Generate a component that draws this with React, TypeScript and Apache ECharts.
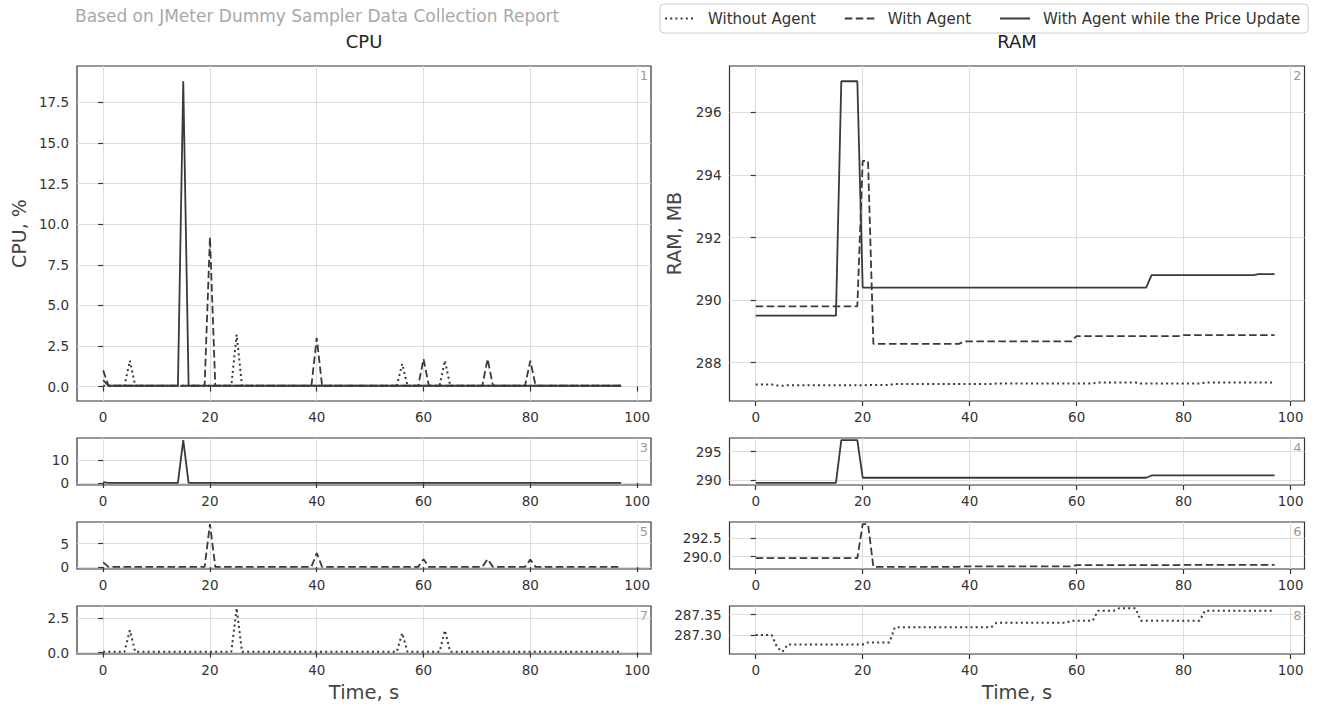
import React, { useEffect, useRef } from "react";
import * as echarts from "echarts";

const seriesNames = ["Without Agent", "With Agent", "With Agent while the Price Update"];
const xTicks = [0, 20, 40, 60, 80, 100];

// CPU, % (time s, value)
const cpuWithout: [number, number][] = [
  [0, 0.05], [4, 0.05], [5, 1.6], [6, 0.05], [24, 0.05], [25, 3.2], [26, 0.05],
  [55, 0.05], [56, 1.4], [57, 0.05], [63, 0.05], [64, 1.6], [65, 0.05], [97, 0.05],
];
const cpuWith: [number, number][] = [
  [0, 1.0], [1, 0.05], [19, 0.05], [20, 9.2], [21, 0.05], [39, 0.05], [40, 3.0], [41, 0.05],
  [59, 0.05], [60, 1.7], [61, 0.05], [71, 0.05], [72, 1.7], [73, 0.05], [79, 0.05], [80, 1.6],
  [81, 0.05], [97, 0.05],
];
const cpuPrice: [number, number][] = [
  [0, 0.4], [1, 0.05], [14, 0.05], [15, 18.8], [16, 0.05], [97, 0.05],
];

// RAM, MB
const ramWithout: [number, number][] = [
  [0, 287.3], [3, 287.3], [4, 287.27], [5, 287.259], [6, 287.277], [20, 287.277], [21, 287.282],
  [25, 287.282], [26, 287.319], [44, 287.319], [45, 287.33], [58, 287.33], [59, 287.335],
  [63, 287.335], [64, 287.36], [67, 287.36], [68, 287.366], [71, 287.366], [72, 287.335],
  [83, 287.335], [84, 287.36], [97, 287.36],
];
const ramWith: [number, number][] = [
  [0, 289.8], [19, 289.8], [20, 294.45], [21, 294.45], [22, 288.6], [38, 288.6], [39, 288.68],
  [59, 288.68], [60, 288.85], [79, 288.85], [80, 288.88], [97, 288.88],
];
const ramPrice: [number, number][] = [
  [0, 289.5], [15, 289.5], [16, 297.0], [19, 297.0], [20, 290.4], [73, 290.4], [74, 290.8],
  [93, 290.8], [94, 290.83], [97, 290.83],
];

const cpuMainTicks = [0, 2.5, 5, 7.5, 10, 12.5, 15, 17.5];
const ramMainTicks = [288, 290, 292, 294, 296];
const cpuPriceTicks = [0, 10];
const ramPriceTicks = [290, 295];
const cpuWithTicks = [0, 5];
const ramWithTicks = [290, 292.5];
const cpuWithoutTicks = [0, 2.5];
const ramWithoutTicks = [287.3, 287.35];

const FONT = "'DejaVu Sans', sans-serif";
const INK = "#3a3a3a";
const COLS = [{ left: 77, width: 574 }, { left: 729.5, width: 575 }];
const ROWS = [
  { top: 66, height: 335 },
  { top: 438, height: 47 },
  { top: 522, height: 47 },
  { top: 606, height: 48 },
];
const X_MIN = -4.9;
const X_MAX = 102.6;

const lineStyles: Record<string, any> = {
  "Without Agent": { type: [2, 3.2], width: 2 },
  "With Agent": { type: [7.5, 3.5], width: 1.8 },
  "With Agent while the Price Update": { type: "solid", width: 1.8 },
};

function padded(sets: [number, number][][]): [number, number] {
  let lo = Infinity;
  let hi = -Infinity;
  sets.forEach((s) => s.forEach(([, v]) => { lo = Math.min(lo, v); hi = Math.max(hi, v); }));
  const p = (hi - lo) * 0.05;
  return [lo - p, hi + p];
}

type Panel = { col: number; row: number; names: string[]; data: [number, number][][]; ticks: number[]; dec: number; num: string };

const panels: Panel[] = [
  { col: 0, row: 0, names: seriesNames, data: [cpuWithout, cpuWith, cpuPrice], ticks: cpuMainTicks, dec: 1, num: "1" },
  { col: 1, row: 0, names: seriesNames, data: [ramWithout, ramWith, ramPrice], ticks: ramMainTicks, dec: 0, num: "2" },
  { col: 0, row: 1, names: [seriesNames[2]], data: [cpuPrice], ticks: cpuPriceTicks, dec: 0, num: "3" },
  { col: 1, row: 1, names: [seriesNames[2]], data: [ramPrice], ticks: ramPriceTicks, dec: 0, num: "4" },
  { col: 0, row: 2, names: [seriesNames[1]], data: [cpuWith], ticks: cpuWithTicks, dec: 0, num: "5" },
  { col: 1, row: 2, names: [seriesNames[1]], data: [ramWith], ticks: ramWithTicks, dec: 1, num: "6" },
  { col: 0, row: 3, names: [seriesNames[0]], data: [cpuWithout], ticks: cpuWithoutTicks, dec: 1, num: "7" },
  { col: 1, row: 3, names: [seriesNames[0]], data: [ramWithout], ticks: ramWithoutTicks, dec: 2, num: "8" },
];

export default function App() {
  const ref = useRef<HTMLDivElement>(null);
  useEffect(() => {
    if (!ref.current) return;
    const chart = echarts.init(ref.current, undefined, { renderer: "svg" });
    const grids: any[] = [];
    const xAxes: any[] = [];
    const yAxes: any[] = [];
    const series: any[] = [];
    const graphics: any[] = [];
    panels.forEach((p, i) => {
      const c = COLS[p.col];
      const r = ROWS[p.row];
      grids.push({
        left: c.left, top: r.top, width: c.width, height: r.height,
        show: true, borderColor: "#333", borderWidth: 1.2, backgroundColor: "transparent",
      });
      xAxes.push({
        gridIndex: i, type: "value", min: X_MIN, max: X_MAX,
        axisLine: { show: false },
        axisTick: { show: true, length: 5, customValues: xTicks, lineStyle: { color: "#333", width: 1.2 } },
        axisLabel: { customValues: xTicks, fontSize: 13.5, color: "#333", margin: 9, fontFamily: FONT },
        splitLine: { show: true, lineStyle: { color: "#dddddd", width: 1 } },
      });
      const [lo, hi] = padded(p.data);
      yAxes.push({
        gridIndex: i, type: "value", min: lo, max: hi,
        axisLine: { show: false },
        axisTick: { show: true, length: 5, customValues: p.ticks, lineStyle: { color: "#333", width: 1.2 } },
        axisLabel: {
          customValues: p.ticks, fontSize: 13.5, color: "#333", margin: 8, fontFamily: FONT,
          formatter: (v: number) => v.toFixed(p.dec),
        },
        splitLine: { show: true, lineStyle: { color: "#dddddd", width: 1 } },
      });
      p.names.forEach((n, k) => {
        const ls = lineStyles[n];
        series.push({
          name: n, type: "line", xAxisIndex: i, yAxisIndex: i, data: p.data[k],
          symbol: "none", showSymbol: false,
          lineStyle: { color: INK, width: ls.width, type: ls.type },
          itemStyle: { color: INK },
          z: 3 + k,
        });
      });
      graphics.push({
        type: "text", x: c.left + c.width - 3, y: r.top + 3,
        style: { text: p.num, fontSize: 13, fill: "#9a9a9a", fontFamily: FONT, textAlign: "right", textVerticalAlign: "top" },
      });
    });
    const cpuCenter = COLS[0].left + COLS[0].width / 2;
    const ramCenter = COLS[1].left + COLS[1].width / 2;
    const mainMid = ROWS[0].top + ROWS[0].height / 2;
    graphics.push(
      { type: "text", x: 75, y: 16, style: { text: "Based on JMeter Dummy Sampler Data Collection Report", fontSize: 17, fill: "#a8a8a8", fontFamily: FONT, textAlign: "left", textVerticalAlign: "middle" } },
      { type: "text", x: cpuCenter, y: 41, style: { text: "CPU", fontSize: 18, fill: "#222", fontFamily: FONT, textAlign: "center", textVerticalAlign: "middle" } },
      { type: "text", x: ramCenter, y: 41, style: { text: "RAM", fontSize: 18, fill: "#222", fontFamily: FONT, textAlign: "center", textVerticalAlign: "middle" } },
      { type: "text", x: 19, y: mainMid, rotation: Math.PI / 2, style: { text: "CPU, %", fontSize: 19, fill: "#444", fontFamily: FONT, textAlign: "center", textVerticalAlign: "middle" } },
      { type: "text", x: 674, y: mainMid, rotation: Math.PI / 2, style: { text: "RAM, MB", fontSize: 19, fill: "#444", fontFamily: FONT, textAlign: "center", textVerticalAlign: "middle" } },
      { type: "text", x: cpuCenter, y: 692, style: { text: "Time, s", fontSize: 19.5, fill: "#444", fontFamily: FONT, textAlign: "center", textVerticalAlign: "middle" } },
      { type: "text", x: ramCenter, y: 692, style: { text: "Time, s", fontSize: 19.5, fill: "#444", fontFamily: FONT, textAlign: "center", textVerticalAlign: "middle" } },
    );
    chart.setOption({
      animation: false,
      backgroundColor: "#ffffff",
      grid: grids,
      xAxis: xAxes,
      yAxis: yAxes,
      series,
      graphic: graphics,
      legend: {
        data: seriesNames, left: 660, top: 4, orient: "horizontal",
        itemWidth: 30, itemHeight: 14, itemGap: 28,
        itemStyle: { opacity: 0 },
        borderColor: "#cccccc", borderWidth: 1, borderRadius: 4,
        padding: [7, 8, 7, 4],
        textStyle: { fontSize: 15, color: "#333", fontFamily: FONT, padding: [0, 0, 0, 8] },
      },
    });
    return () => chart.dispose();
  }, []);
  return <div ref={ref} style={{ position: "fixed", left: 0, top: 0, width: 1322, height: 709, background: "#fff" }} />;
}
